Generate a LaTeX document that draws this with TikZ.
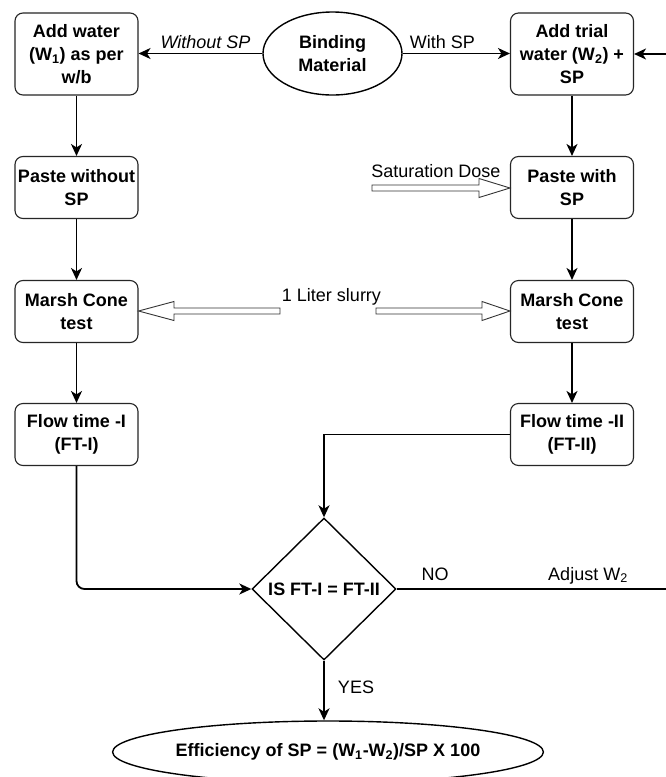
\documentclass[tikz,border=0pt]{standalone}
\usepackage{fontspec}
\setmainfont{Liberation Sans}
\usetikzlibrary{shapes.geometric,arrows.meta}
\begin{document}
\begin{tikzpicture}[x=1pt,y=-1pt,
  every node/.style={font=\fontsize{18}{23}\selectfont},
  box/.style={draw=black!85, rounded corners=8pt, line width=1.1pt, minimum width=123pt,
    minimum height=62pt, inner sep=0pt, align=center, font=\fontsize{18}{23}\selectfont\bfseries},
  tallbox/.style={box, minimum height=82pt},
  conn/.style={line width=1.8pt, -{Stealth[length=12pt,width=11pt,inset=3.5pt]}},
  hollow/.style={draw=black!80, line width=0.9pt, fill=white},
  lbl/.style={inner sep=0pt, anchor=base}
]
\fill[white] (0,0) rectangle (666,777);
\useasboundingbox (0,0) rectangle (666,777);

% nodes
\node[tallbox] (addw) at (76.5,54) {Add water\\(W\textsubscript{1}) as per\\w/b};
\node[draw, ellipse, line width=1.4pt, minimum width=139pt, minimum height=83pt, inner sep=0pt,
  align=center, font=\fontsize{18}{23}\selectfont\bfseries] (bind) at (332.5,53.5) {Binding\\Material};
\node[tallbox] (addt) at (572,54) {Add trial\\water (W\textsubscript{2}) +\\SP};
\node[box] (pwo) at (76.5,187.5) {Paste without\\SP};
\node[box] (pw) at (572,187.5) {Paste with\\SP};
\node[box] (mc1) at (76.5,311.5) {Marsh Cone\\test};
\node[box] (mc2) at (572,311.5) {Marsh Cone\\test};
\node[box] (ft1) at (76.5,434.5) {Flow time -I\\(FT-I)};
\node[box] (ft2) at (572,434.5) {Flow time -II\\(FT-II)};
\node[diamond, draw, line width=1.4pt, minimum width=144pt, minimum height=142pt, inner sep=0pt] (dec) at (324,589) {};
\node[inner sep=0pt, font=\fontsize{18}{23}\selectfont\bfseries] (dect) at (dec) {IS FT-I = FT-II};
\node[ellipse, draw, line width=1.4pt, minimum width=382pt, minimum height=62pt, inner sep=0pt,
  font=\fontsize{18}{23}\selectfont\bfseries] (eff) at (328,752) {Efficiency of SP = (W\textsubscript{1}-W\textsubscript{2})/SP X 100};

\coordinate (re) at (674,54);

% connectors
\draw[conn] (bind.west) -- (bind.west -| addw.east);
\draw[conn] (bind.east) -- (bind.east -| addt.west);
\draw[conn] (addw.south) -- (pwo.north);
\draw[conn] (pwo.south) -- (mc1.north);
\draw[conn] (mc1.south) -- (ft1.north);
\draw[conn] (addt.south) -- (pw.north);
\draw[conn] (pw.south) -- (mc2.north);
\draw[conn] (mc2.south) -- (ft2.north);
\draw[conn, rounded corners=8pt] (ft1.south) |- (dec.west);
\draw[conn] (ft2.west) -| (dec.north);
\draw[conn] (dec.east) -- (dec.east -| re) -- (re) -- (addt.east);
\draw[conn] (dec.south) -- (dec.south |- eff.north);

% hollow arrows
\coordinate (sd) at (372,188);
\draw[hollow] (sd) ++(0,-3) -- (479,185) -- (479,178.5) -- (pw.west |- sd) -- (479,197.5) -- (479,191) -- (372,191) -- cycle;
\coordinate (ls) at (376,311);
\draw[hollow] (ls) ++(0,-3) -- (482,308) -- (482,301.5) -- (mc2.west |- ls) -- (482,320.5) -- (482,314) -- (376,314) -- cycle;
\coordinate (lt) at (280,311);
\draw[hollow] (lt) ++(0,-3) -- (174,308) -- (174,301.5) -- (mc1.east |- lt) -- (174,320.5) -- (174,314) -- (280,314) -- cycle;

% labels
\node[lbl, font=\fontsize{18}{23}\selectfont\itshape] at (205.5,48) {Without SP};
\node[lbl] at (442.5,48) {With SP};
\node[lbl] at (436,177) {Saturation Dose};
\node[lbl] at (331.5,301) {1 Liter slurry};
\node[lbl] at (435,580) {NO};
\node[lbl] at (588,580) {Adjust W\textsubscript{2}};
\node[lbl] at (356,693) {YES};
\end{tikzpicture}
\end{document}
